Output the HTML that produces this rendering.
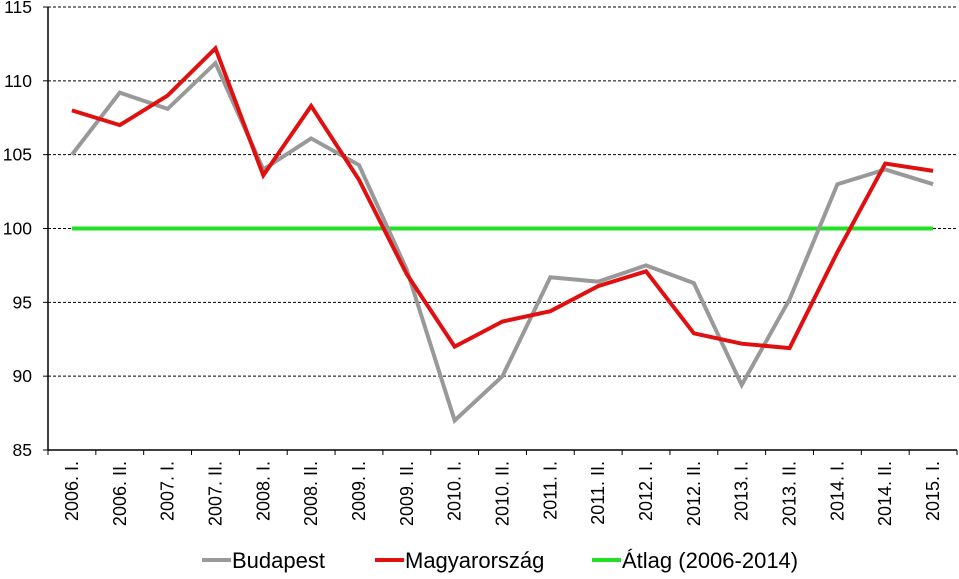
<!DOCTYPE html>
<html><head><meta charset="utf-8"><style>
body{margin:0;background:#fff;}
svg{font-family:"Liberation Sans",sans-serif;}
</style></head><body>
<svg id="chart" width="959" height="574">
<g id="grid"></g>
<g id="axes"></g>
<g id="series"></g>
<g id="legend"></g>
</svg>
<script>
const categories=["2006. I.","2006. II.","2007. I.","2007. II.","2008. I.","2008. II.","2009. I.","2009. II.","2010. I.","2010. II.","2011. I.","2011. II.","2012. I.","2012. II.","2013. I.","2013. II.","2014. I.","2014. II.","2015. I."];
const budapest=[105,109.2,108.1,111.2,104,106.1,104.3,97.2,87,90,96.7,96.4,97.5,96.3,89.4,95.2,103,104,103];
const magyarorszag=[108,107,109,112.2,103.6,108.3,103.3,96.9,92,93.7,94.4,96.1,97.1,92.9,92.2,91.9,98.4,104.4,103.9];
const atlag=[100,100,100,100,100,100,100,100,100,100,100,100,100,100,100,100,100,100,100];
const yTicks=[85,90,95,100,105,110,115];
const L=48,R=957,T=7,B=450,yMin=85,yMax=115;
const NS="http://www.w3.org/2000/svg";
const step=(R-L)/categories.length;
function x(i){return L+step*(i+0.5);}
function y(v){return B-(v-yMin)/(yMax-yMin)*(B-T);}
function mk(tag,attrs,parent){const e=document.createElementNS(NS,tag);for(const k in attrs)e.setAttribute(k,attrs[k]);parent.appendChild(e);return e;}
const grid=document.getElementById('grid'),axes=document.getElementById('axes'),ser=document.getElementById('series'),leg=document.getElementById('legend');
yTicks.forEach(t=>{
 if(t>yMin){const g=mk('line',{x1:L,x2:R,y1:y(t),y2:y(t),stroke:'#000','stroke-width':1,'stroke-dasharray':'3,2'},grid);
 
 }
 const tl=mk('text',{x:L-16,y:y(t)+6,'text-anchor':'end','font-size':17.5},axes);tl.textContent=t;
 
 
 mk('line',{x1:L-5,x2:L,y1:y(t),y2:y(t),stroke:'#000'},axes);
});
let a=mk('line',{x1:L,x2:L,y1:T,y2:B,stroke:'#000','stroke-width':1.5},axes);


a=mk('line',{x1:L,x2:R,y1:B,y2:B,stroke:'#000','stroke-width':1.5},axes);


categories.forEach((c,i)=>{
 mk('line',{x1:L+step*i,x2:L+step*i,y1:B,y2:B+5,stroke:'#000'},axes);
 const t=mk('text',{transform:`translate(${x(i)+6},461) rotate(-90)`,'text-anchor':'end','font-size':18},axes);
 t.textContent=c;
 
 
});
mk('line',{x1:R,x2:R,y1:B,y2:B+5,stroke:'#000'},axes);
function line(vals,color,name){
 const p=mk('polyline',{points:vals.map((v,i)=>x(i)+','+y(v)).join(' '),fill:'none',stroke:color,'stroke-width':4,'stroke-linejoin':'miter'},ser);
 
 
}
line(atlag,'#22e022','atlag-line');
line(budapest,'#999999','budapest-line');
line(magyarorszag,'#e01010','magyarorszag-line');
[["Budapest",'#999999',202],["Magyarország",'#e01010',375],["Átlag (2006-2014)",'#22e022',592]].forEach(([n,c,lx])=>{
 const g=mk('g',{},leg);
 
 
 mk('line',{x1:lx,x2:lx+29,y1:560,y2:560,stroke:c,'stroke-width':4},g);
 const t=mk('text',{x:lx+30,y:568,'font-size':22},g);t.textContent=n;
});
</script>
</body></html>
